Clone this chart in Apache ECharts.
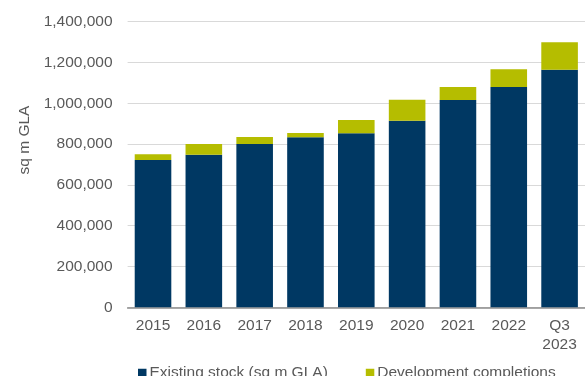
<!DOCTYPE html>
<html>
<head>
<meta charset="utf-8">
<script src="https://cdn.jsdelivr.net/npm/echarts@6/dist/echarts.min.js"></script>
<style>html,body{margin:0;padding:0;background:#fff;}#c{width:585px;height:376px;}</style>
</head>
<body>
<div id="c"></div>
<script>
var categories = ['2015','2016','2017','2018','2019','2020','2021','2022','Q3\n2023'];
var existingStock = [722000, 748000, 800000, 833000, 853000, 915000, 1016000, 1080000, 1165000];
var completions = [28000, 52000, 35000, 22000, 65000, 103000, 64000, 87000, 134000];
var yTicks = [0, 200000, 400000, 600000, 800000, 1000000, 1200000, 1400000];

var font = 'Arial, "Liberation Sans", sans-serif';
var chart = echarts.init(document.getElementById('c'), null, {renderer: 'canvas'});
chart.setOption({
  animation: false,
  grid: {left: 127.6, right: -5.2, top: 21.7, bottom: 68.7, containLabel: false},
  legend: {
    data: ['Existing stock (sq m GLA)', 'Development completions'],
    left: 133, top: 360, itemWidth: 8.5, itemHeight: 8.5, itemGap: 38,
    icon: 'rect',
    textStyle: {fontFamily: font, fontSize: 15.5, color: '#595959', padding: [0,0,0,-2]}
  },
  graphic: [{
    type: 'text', x: 25, y: 140, rotation: Math.PI / 2,
    style: {text: 'sq m GLA', font: '15.5px ' + font, fill: '#595959', align: 'center', verticalAlign: 'middle'}
  }],
  xAxis: {
    type: 'category', data: categories,
    axisLine: {lineStyle: {color: '#8c8c8c', width: 1.5}},
    axisTick: {show: false},
    axisLabel: {fontFamily: font, fontSize: 15.5, color: '#595959', margin: 9, lineHeight: 19, interval: 0}
  },
  yAxis: {
    type: 'value', min: yTicks[0], max: yTicks[yTicks.length - 1], interval: 200000,
    axisLine: {show: false}, axisTick: {show: false},
    splitLine: {lineStyle: {color: '#d9d9d9', width: 1}},
    axisLabel: {fontFamily: font, fontSize: 15.5, color: '#595959', margin: 15,
      formatter: function (v) { return v.toLocaleString('en-US'); }}
  },
  series: [
    {name: 'Existing stock (sq m GLA)', type: 'bar', stack: 's', data: existingStock,
     barCategoryGap: '28%', itemStyle: {color: '#003863'}},
    {name: 'Development completions', type: 'bar', stack: 's', data: completions,
     barCategoryGap: '28%', itemStyle: {color: '#b5bd00'}}
  ]
});
</script>
</body>
</html>
